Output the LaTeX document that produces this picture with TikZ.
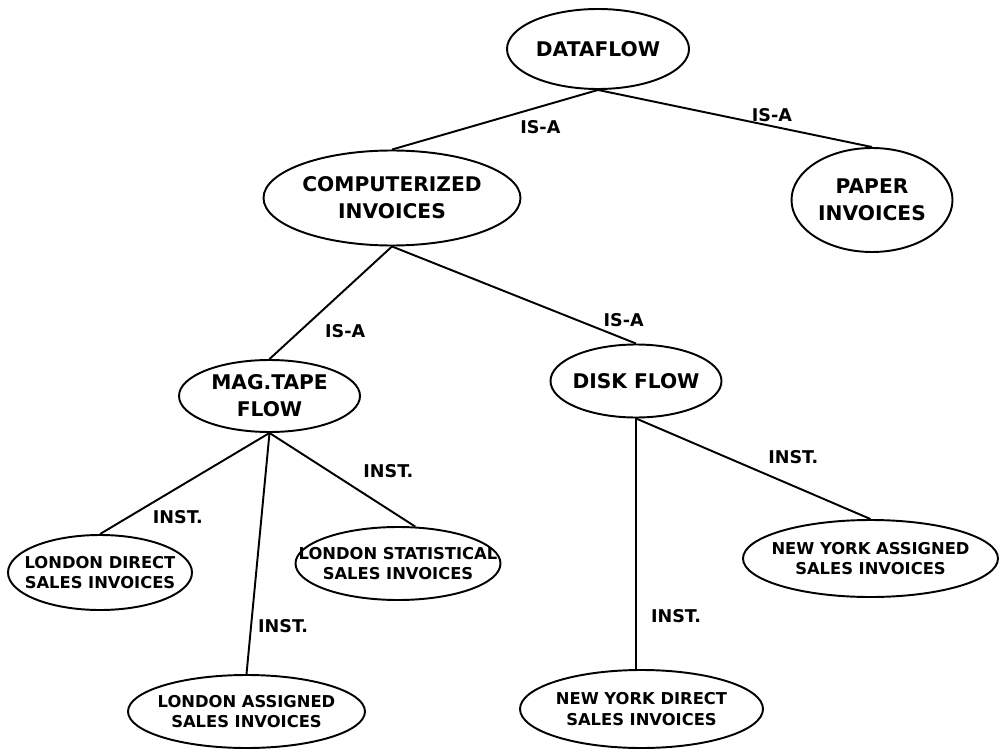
\documentclass[tikz,border=0pt]{standalone}
\usepackage{fontspec}
\setsansfont{DejaVu Sans}
\usetikzlibrary{shapes.geometric}

\begin{document}
\begin{tikzpicture}[line width=1.1pt,
  cls/.style={ellipse,draw,inner xsep=-0.6cm,inner ysep=0pt,align=center,
    font=\sffamily\bfseries\fontsize{11.5}{15.4}\selectfont},
  inst/.style={ellipse,draw,inner xsep=-0.6cm,inner ysep=0pt,align=center,
    font=\sffamily\bfseries\fontsize{9.3}{11.5}\selectfont},
  lab/.style={font=\sffamily\bfseries\fontsize{10}{12}\selectfont,inner sep=1pt}]
  \useasboundingbox (0,0) rectangle (19.98,15);

  % classes
  \node[cls,minimum width=3.64cm,minimum height=1.6cm]  (df)    at (11.96,14.02) {DATAFLOW};
  \node[cls,minimum width=5.14cm,minimum height=1.9cm]  (comp)  at (7.84,11.04)  {COMPUTERIZED\\INVOICES};
  \node[cls,minimum width=3.22cm,minimum height=2.08cm] (paper) at (17.44,11.0)  {PAPER\\INVOICES};
  \node[cls,minimum width=3.62cm,minimum height=1.44cm] (mag)   at (5.39,7.08)   {MAG.TAPE\\FLOW};
  \node[cls,minimum width=3.42cm,minimum height=1.46cm] (disk)  at (12.72,7.38)  {DISK FLOW};

  % instances
  \node[inst,minimum width=3.68cm,minimum height=1.5cm]  (ldir)  at (2.0,3.55)   {LONDON DIRECT\\SALES INVOICES};
  \node[inst,minimum width=4.1cm,minimum height=1.46cm]  (lstat) at (7.96,3.73)  {LONDON STATISTICAL\\SALES INVOICES};
  \node[inst,minimum width=4.74cm,minimum height=1.46cm] (lass)  at (4.93,0.77)  {LONDON ASSIGNED\\SALES INVOICES};
  \node[inst,minimum width=5.1cm,minimum height=1.54cm]  (nyass) at (17.41,3.83) {NEW YORK ASSIGNED\\SALES INVOICES};
  \node[inst,minimum width=4.86cm,minimum height=1.56cm] (nydir) at (12.83,0.82) {NEW YORK DIRECT\\SALES INVOICES};

  % links
  \foreach \u/\v/\p/\dx/\dy/\lab [count=\i] in {
      df.south/comp.north/0.28/0/-0.4/IS-A,
      df.south/paper.north/0.635/0/0.23/IS-A,
      comp.south/mag.north/0.75/0.9/0/IS-A,
      comp.south/disk.north/0.9/0.24/0.27/IS-A,
      mag.south/ldir.north/0.6/0.2/-0.46/INST.,
      mag.south/lstat.65/0.5/0.92/0.18/INST.,
      mag.south/lass.north/0.8/0.64/0/INST.,
      disk.south/nyass.north/0.5/0.8/0.24/INST.,
      disk.south/nydir.north -| disk.south/0.79/0.8/0/INST.}
    \draw (\u) -- node[lab,pos=\p,xshift=\dx cm,yshift=\dy cm] (e\i) {\lab} (\v);
\end{tikzpicture}
\end{document}
